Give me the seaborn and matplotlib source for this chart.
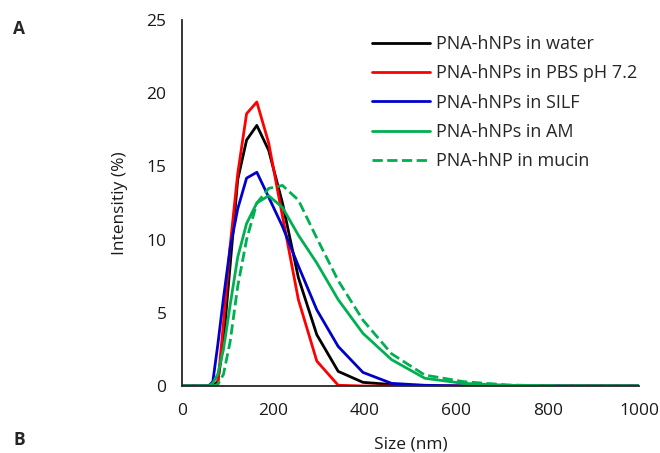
import numpy as np
import pandas as pd
import matplotlib
matplotlib.use("Agg")
import matplotlib.pyplot as plt
from matplotlib.ticker import MultipleLocator
import seaborn as sns

# DLS size bins (nm) and intensity distributions (%)
sizes = [0.4, 50.75, 58.77, 68.06, 78.82, 91.28, 105.7, 122.4, 141.8, 164.2, 190.1,
         220.2, 255.0, 295.3, 342.0, 396.1, 458.7, 531.2, 615.1, 712.4, 825.0, 955.4, 1106]

water = [0, 0, 0, 0, 0.3, 3.0, 8.2, 14.1, 16.8, 17.8, 16.1, 12.5, 7.4, 3.5, 1.0, 0.25,
         0.1, 0, 0, 0, 0, 0, 0]
pbs = [0, 0, 0, 0, 0.1, 4.3, 9.5, 14.5, 18.6, 19.4, 16.6, 11.6, 5.9, 1.7, 0.05, 0,
       0, 0, 0, 0, 0, 0, 0]
silf = [0, 0, 0, 0.3, 2.8, 6.0, 9.4, 12.1, 14.2, 14.6, 12.9, 10.9, 8.2, 5.2, 2.7, 0.93,
        0.18, 0.05, 0, 0, 0, 0, 0]
am = [0, 0, 0, 0.2, 0.8, 2.5, 5.5, 8.8, 11.1, 12.5, 13.0, 12.2, 10.3, 8.4, 5.9, 3.6,
      1.8, 0.53, 0.18, 0.05, 0, 0, 0]
mucin = [0, 0, 0, 0, 0.1, 0.8, 3.0, 6.8, 10.0, 12.5, 13.5, 13.7, 12.7, 10.1, 7.2, 4.5,
         2.2, 0.75, 0.3, 0.07, 0, 0, 0]

labels = ["PNA-hNPs in water", "PNA-hNPs in PBS pH 7.2", "PNA-hNPs in SILF",
          "PNA-hNPs in AM", "PNA-hNP in mucin"]
series = [water, pbs, silf, am, mucin]
colors = ["#000000", "#FF0000", "#0000CC", "#00B050", "#00B050"]
dashes = ["-", "-", "-", "-", "--"]

sns.set_style("white")
plt.rcParams["font.family"] = ["Open Sans", "DejaVu Sans"]
plt.rcParams["font.size"] = 12.5

fig = plt.figure(figsize=(6.6, 4.53), dpi=100)
ax = fig.add_axes([0.2753, 0.1479, 0.6933, 0.8079])

for lab, vals, col, ls in zip(labels, series, colors, dashes):
    df = pd.DataFrame({"Size": sizes, "Intensity": vals})
    sns.lineplot(data=df, x="Size", y="Intensity", ax=ax, color=col,
                 linestyle=ls, linewidth=2.0, label=lab)

ax.set_xlim(0, 1000)
ax.set_ylim(0, 25)
ax.xaxis.set_major_locator(MultipleLocator(200))
ax.xaxis.set_minor_locator(MultipleLocator(40))
ax.yaxis.set_major_locator(MultipleLocator(5))
ax.yaxis.set_minor_locator(MultipleLocator(1))
ax.tick_params(which="major", direction="in", length=5, width=1.2, color="#262626",
               labelsize=12.5, labelcolor="#1a1a1a")
ax.tick_params(which="minor", direction="in", length=4, width=1.0, color="#262626")
ax.tick_params(axis="y", which="major", pad=11)
ax.tick_params(axis="x", which="major", pad=12.5)

for side in ["top", "right"]:
    ax.spines[side].set_visible(False)
for side in ["left", "bottom"]:
    ax.spines[side].set_color("#262626")
    ax.spines[side].set_linewidth(1.3)

ax.set_xlabel("Size (nm)", fontsize=12.5, color="#1a1a1a", labelpad=12)
ax.set_ylabel("Intensitiy (%)", fontsize=12.5, color="#1a1a1a", labelpad=13)

ax.legend(loc="upper right", frameon=False, fontsize=13, handlelength=3.2,
          handletextpad=0.35, labelspacing=0.62, borderaxespad=0.0,
          bbox_to_anchor=(1.012, 0.978))

fig.text(0.02, 0.925, "A", fontsize=12.5, fontweight="bold")
fig.text(0.02, 0.018, "B", fontsize=12.5, fontweight="bold")

fig.savefig("out.png", dpi=100)
plt.close(fig)
